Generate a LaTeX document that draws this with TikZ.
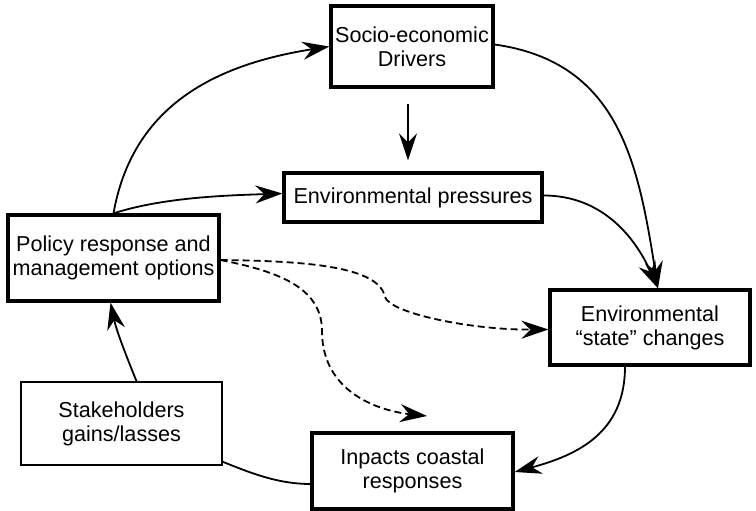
\documentclass[tikz,border=0pt]{standalone}
\usepackage{fontspec}
\setmainfont{Liberation Sans}
\usetikzlibrary{arrows.meta}
\begin{document}
\begin{tikzpicture}[x=1pt,y=1pt,
  box/.style={draw, line width=3.2pt, align=center, inner sep=0pt, font=\fontsize{21.6}{24}\selectfont},
  thinbox/.style={box, line width=1.6pt},
  conn/.style={line width=1.8pt, -{Stealth[length=27pt,width=18pt,inset=9pt]}},
  plainconn/.style={line width=1.8pt},
  dashconn/.style={conn, dash pattern=on 7pt off 4pt}]
\useasboundingbox (0,0) rectangle (756,511);
\node[box, minimum width=162pt, minimum height=81pt] (socio) at (412,464.5) {Socio-economic\\Drivers};
\node[box, minimum width=258pt, minimum height=49pt] (press) at (413,313.5) {Environmental pressures};
\node[box, minimum width=211pt, minimum height=86pt] (policy) at (113.5,253) {Policy response and\\management options};
\node[box, minimum width=200pt, minimum height=75pt] (state) at (650,183.5) {Environmental\\“state” changes};
\node[thinbox, minimum width=201pt, minimum height=83pt] (stake) at (121.5,87.5) {Stakeholders\\gains/lasses};
\node[box, minimum width=201pt, minimum height=76pt] (impacts) at (412.5,40) {Inpacts coastal\\responses};
% solid connectors
\draw[conn] (policy.north) to[out=80,in=189,looseness=1.05] (socio.west);
\draw[conn] (policy.north) to[out=18,in=182,looseness=0.8] ([yshift=4pt]press.west);
\draw[conn, shorten <=15pt, shorten >=11pt] ([xshift=-4pt]socio.south) -- ([xshift=-5pt]press.north);
\draw[conn] ([yshift=2pt]socio.east) to[out=-8,in=99,looseness=1.1] ([xshift=8pt]state.north);
\draw[conn] ([yshift=2pt]press.east) to[out=0,in=114,looseness=1] ([xshift=8pt]state.north);
\draw[conn] ([xshift=-25pt]state.south) to[out=-90,in=15,looseness=1.1] ([yshift=-1pt]impacts.east);
\draw[plainconn] ([yshift=-13pt]impacts.west) to[out=180,in=-22,looseness=0.9] ([yshift=4pt]stake.south east);
\draw[conn] ([xshift=15pt]stake.north) to[out=112,in=-78,looseness=0.9] ([xshift=-3pt]policy.south);
% dashed connectors
\coordinate (knee) at (385,214);
\coordinate (dend) at (427,95);
\draw[dashconn] ([yshift=-2pt]policy.east) .. controls (310,250) and (379,244) .. (knee)
  .. controls (390,198) and (470,181) .. ([yshift=-2pt]state.west);
\draw[dashconn] ([yshift=-2pt]policy.east) .. controls (275,240) and (322,225) .. (322,180)
  .. controls (322,118) and (380,100) .. (dend);
\end{tikzpicture}
\end{document}
